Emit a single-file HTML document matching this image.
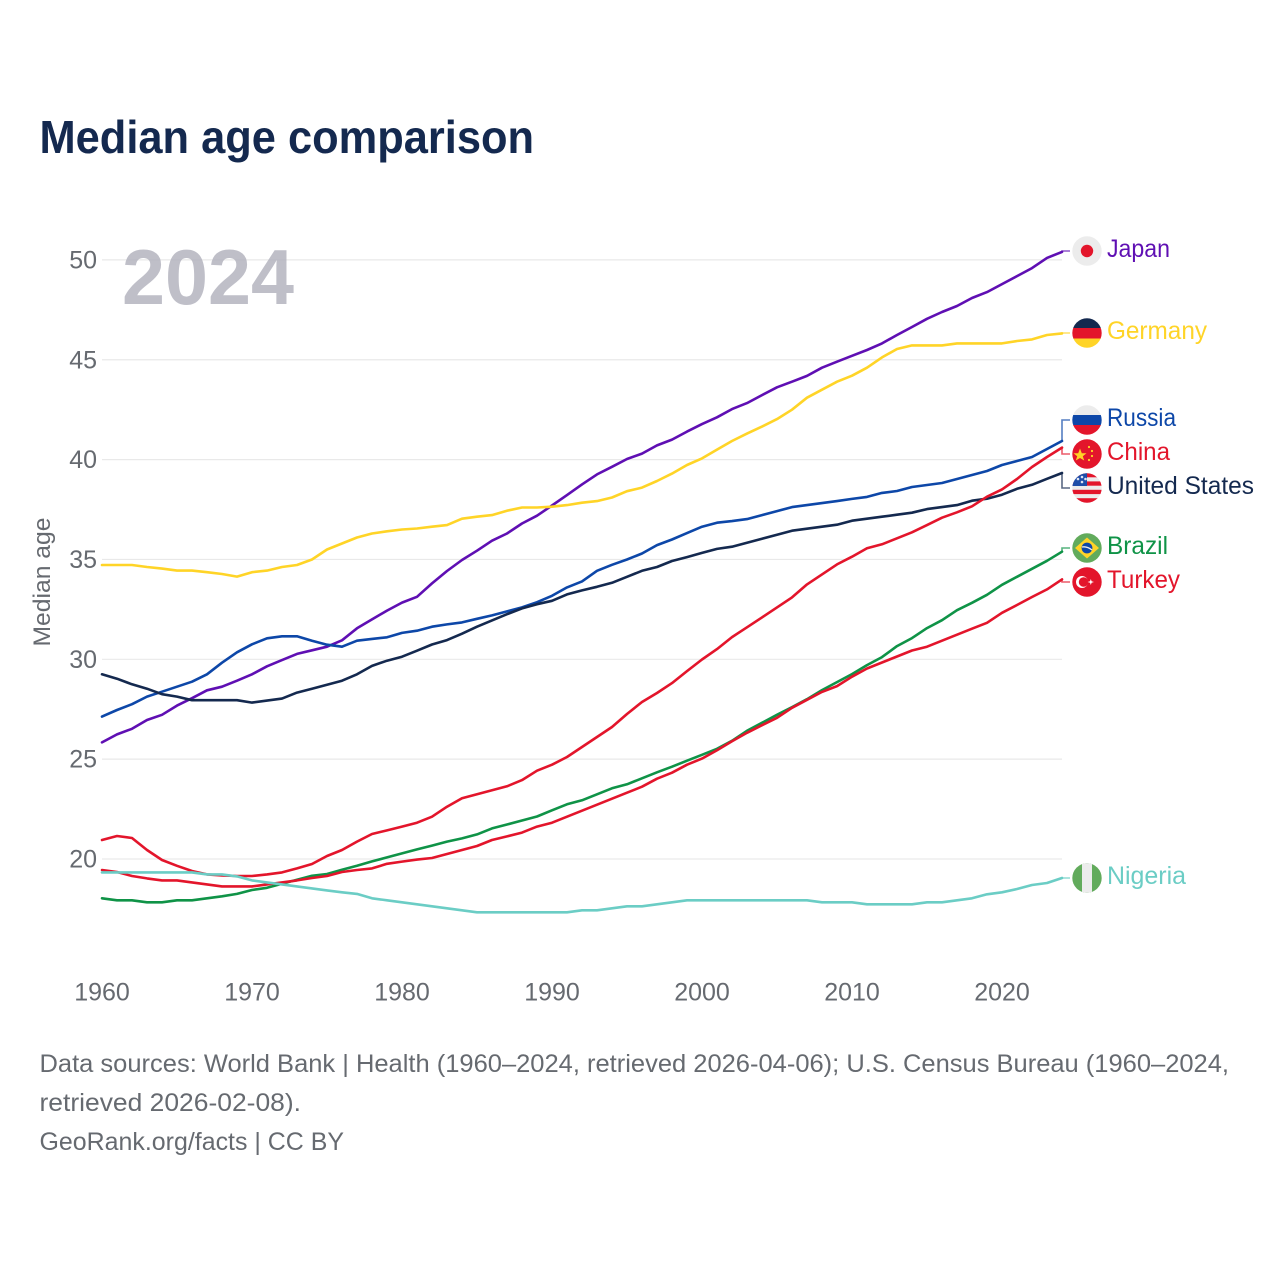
<!DOCTYPE html>
<html lang="en">
<head>
<meta charset="utf-8">
<title>Median age comparison</title>
<style>
html,body{margin:0;padding:0;background:#fff}
svg{display:block}
text{font-family:"Liberation Sans",sans-serif}
</style>
</head>
<body>
<svg id="chart" width="1280" height="1280" viewBox="0 0 1280 1280" xmlns="http://www.w3.org/2000/svg">
<defs><clipPath id="flag-clip"><circle cx="0" cy="0" r="14.7"/></clipPath></defs>
<rect width="1280" height="1280" fill="#fff"/>
<text x="39.5" y="153" font-size="46" font-weight="700" fill="#14294f" textLength="494.5" lengthAdjust="spacingAndGlyphs">Median age comparison</text>
<g id="grid"></g>
<text x="122" y="304" font-size="78" font-weight="700" fill="#b4b4bf" opacity="0.85" textLength="172" lengthAdjust="spacingAndGlyphs">2024</text>
<g id="ticks"></g>
<text transform="translate(50,582) rotate(-90)" text-anchor="middle" font-size="24" fill="#666a70" textLength="129" lengthAdjust="spacingAndGlyphs">Median age</text>
<g id="series"></g>

<g class="flag" data-series="japan" data-cy="251" transform="translate(1087,251)" clip-path="url(#flag-clip)">
<rect x="-15" y="-15" width="30" height="30" fill="#ececec"/><circle r="6.2" fill="#e3152b"/></g>
<g class="flag" data-series="germany" data-cy="333" transform="translate(1087,333)" clip-path="url(#flag-clip)">
<rect x="-15" y="-15" width="30" height="10" fill="#14294f"/><rect x="-15" y="-5" width="30" height="11" fill="#e3152b"/><rect x="-15" y="5.5" width="30" height="10" fill="#ffd427"/></g>
<g class="flag" data-series="russia" data-cy="420" transform="translate(1087,420)" clip-path="url(#flag-clip)">
<rect x="-15" y="-15" width="30" height="10" fill="#ececec"/><rect x="-15" y="-5" width="30" height="10.5" fill="#0d47a8"/><rect x="-15" y="5" width="30" height="10" fill="#e3152b"/></g>
<g class="flag" data-series="china" data-cy="454" transform="translate(1087,454)" clip-path="url(#flag-clip)">
<rect x="-15" y="-15" width="30" height="30" fill="#e3152b"/><polygon points="-7,-5.5 -5.2,-0.8 -0.5,-0.8 -4.2,2.2 -2.8,6.5 -7,4 -11.2,6.5 -9.8,2.2 -13.5,-0.8 -8.8,-0.8" fill="#ffd427"/><circle cx="2" cy="-7" r="1.1" fill="#ffd427"/><circle cx="5" cy="-3" r="1.1" fill="#ffd427"/><circle cx="5" cy="2" r="1.1" fill="#ffd427"/><circle cx="2" cy="6" r="1.1" fill="#ffd427"/></g>
<g class="flag" data-series="unitedStates" data-cy="488" transform="translate(1087,488)" clip-path="url(#flag-clip)">
<rect x="-15" y="-15" width="30" height="30" fill="#ececec"/>
<rect x="-15" y="-15" width="30" height="4.3" fill="#e3152b"/><rect x="-15" y="-6.6" width="30" height="4.3" fill="#e3152b"/><rect x="-15" y="1.8" width="30" height="4.3" fill="#e3152b"/><rect x="-15" y="10.2" width="30" height="4.8" fill="#e3152b"/>
<rect x="-15" y="-15" width="15" height="13" fill="#1f4ea8"/><circle cx="-9" cy="-9" r="1.3" fill="#dfe5f2"/><circle cx="-5" cy="-11" r="1.3" fill="#dfe5f2"/><circle cx="-5" cy="-6" r="1.3" fill="#dfe5f2"/><circle cx="-1.5" cy="-9" r="1.3" fill="#dfe5f2"/></g>
<g class="flag" data-series="brazil" data-cy="548" transform="translate(1087,548)" clip-path="url(#flag-clip)">
<rect x="-15" y="-15" width="30" height="30" fill="#62ab5c"/><polygon points="0,-10.5 12,0 0,10.5 -12,0" fill="#ffd427"/><circle r="5.4" fill="#0d47a8"/><path d="M-5,-1 Q0,-2 5,2" stroke="#ececec" stroke-width="1.3" fill="none"/></g>
<g class="flag" data-series="turkey" data-cy="582" transform="translate(1087,582)" clip-path="url(#flag-clip)">
<rect x="-15" y="-15" width="30" height="30" fill="#e3152b"/><circle cx="-5" cy="0" r="6" fill="#fff"/><circle cx="-3.4" cy="0" r="4.8" fill="#e3152b"/><polygon points="0.5,0 3,-0.8 3.8,-3 4.6,-0.8 7,0 4.6,0.8 3.8,3 3,0.8" fill="#fff"/></g>
<g class="flag" data-series="nigeria" data-cy="878" transform="translate(1087,878)" clip-path="url(#flag-clip)">
<rect x="-15" y="-15" width="30" height="30" fill="#62ab5c"/><rect x="-5" y="-15" width="10" height="30" fill="#ececec"/></g>

<text x="1107" y="257" font-size="25" fill="#5f0fb3" textLength="63" lengthAdjust="spacingAndGlyphs">Japan</text>
<text x="1107" y="339" font-size="25" fill="#ffd427" textLength="100" lengthAdjust="spacingAndGlyphs">Germany</text>
<text x="1107" y="426" font-size="25" fill="#0d47a8" textLength="69" lengthAdjust="spacingAndGlyphs">Russia</text>
<text x="1107" y="460" font-size="25" fill="#e3152b" textLength="63" lengthAdjust="spacingAndGlyphs">China</text>
<text x="1107" y="494" font-size="25" fill="#14294f" textLength="147" lengthAdjust="spacingAndGlyphs">United States</text>
<text x="1107" y="554" font-size="25" fill="#0f9347" textLength="61" lengthAdjust="spacingAndGlyphs">Brazil</text>
<text x="1107" y="588" font-size="25" fill="#e3152b" textLength="73" lengthAdjust="spacingAndGlyphs">Turkey</text>
<text x="1107" y="884" font-size="25" fill="#6bcdc5" textLength="79" lengthAdjust="spacingAndGlyphs">Nigeria</text>

<text x="39.5" y="1072" font-size="25" fill="#666a70" textLength="1189.5" lengthAdjust="spacingAndGlyphs">Data sources: World Bank | Health (1960–2024, retrieved 2026-04-06); U.S. Census Bureau (1960–2024,</text>
<text x="39.5" y="1111" font-size="25" fill="#666a70" textLength="261.5" lengthAdjust="spacingAndGlyphs">retrieved 2026-02-08).</text>
<text x="39.5" y="1150" font-size="25" fill="#666a70" textLength="304.5" lengthAdjust="spacingAndGlyphs">GeoRank.org/facts | CC BY</text>
</svg>
<script>
const firstYear = 1960;
const yTicks = [20, 25, 30, 35, 40, 45, 50];
const xTicks = [1960, 1970, 1980, 1990, 2000, 2010, 2020];
const japan = [25.84,26.24,26.52,26.96,27.22,27.68,28.05,28.45,28.63,28.93,29.25,29.65,29.96,30.27,30.45,30.63,30.95,31.55,32.0,32.44,32.84,33.13,33.8,34.42,34.97,35.44,35.94,36.3,36.8,37.19,37.7,38.22,38.76,39.26,39.64,40.03,40.3,40.71,41.0,41.4,41.78,42.12,42.53,42.83,43.23,43.62,43.9,44.19,44.6,44.9,45.2,45.49,45.82,46.24,46.64,47.05,47.39,47.69,48.09,48.39,48.79,49.19,49.59,50.1,50.4];
const germany = [34.72,34.72,34.72,34.62,34.54,34.44,34.44,34.36,34.27,34.14,34.36,34.44,34.62,34.72,35.0,35.5,35.8,36.1,36.3,36.41,36.5,36.55,36.64,36.72,37.04,37.14,37.22,37.44,37.6,37.6,37.64,37.72,37.84,37.92,38.1,38.42,38.6,38.93,39.3,39.73,40.06,40.5,40.93,41.3,41.65,42.03,42.5,43.1,43.5,43.9,44.2,44.6,45.12,45.54,45.72,45.72,45.72,45.82,45.82,45.82,45.82,45.94,46.02,46.24,46.32];
const russia = [27.13,27.46,27.75,28.13,28.38,28.63,28.88,29.25,29.83,30.35,30.75,31.05,31.15,31.15,30.93,30.73,30.63,30.93,31.02,31.1,31.32,31.43,31.63,31.75,31.85,32.03,32.2,32.4,32.6,32.86,33.18,33.6,33.9,34.43,34.73,35.0,35.3,35.72,36.0,36.32,36.64,36.84,36.92,37.02,37.22,37.42,37.62,37.72,37.82,37.92,38.03,38.13,38.33,38.43,38.63,38.73,38.83,39.03,39.23,39.43,39.73,39.93,40.13,40.53,40.93];
const china = [20.95,21.15,21.05,20.45,19.95,19.66,19.4,19.23,19.18,19.15,19.15,19.23,19.33,19.53,19.75,20.15,20.45,20.87,21.25,21.43,21.62,21.82,22.12,22.62,23.04,23.24,23.44,23.64,23.95,24.42,24.72,25.11,25.61,26.11,26.61,27.26,27.86,28.31,28.81,29.41,29.99,30.51,31.11,31.6,32.1,32.6,33.1,33.75,34.25,34.75,35.14,35.56,35.76,36.06,36.36,36.72,37.09,37.36,37.66,38.14,38.51,39.03,39.63,40.13,40.6];
const unitedStates = [29.25,29.03,28.75,28.53,28.25,28.13,27.95,27.95,27.95,27.95,27.83,27.93,28.03,28.33,28.53,28.73,28.93,29.25,29.67,29.93,30.13,30.43,30.74,30.96,31.28,31.63,31.95,32.26,32.55,32.76,32.93,33.25,33.45,33.63,33.83,34.13,34.43,34.62,34.92,35.12,35.33,35.53,35.64,35.84,36.04,36.24,36.44,36.54,36.64,36.74,36.94,37.04,37.14,37.24,37.34,37.52,37.62,37.72,37.94,38.04,38.24,38.54,38.74,39.04,39.33];
const brazil = [18.03,17.93,17.93,17.83,17.83,17.93,17.93,18.03,18.13,18.25,18.45,18.56,18.76,18.96,19.16,19.25,19.46,19.66,19.88,20.08,20.28,20.48,20.67,20.87,21.03,21.23,21.53,21.73,21.93,22.13,22.44,22.74,22.94,23.24,23.54,23.74,24.04,24.34,24.62,24.92,25.22,25.52,25.92,26.42,26.82,27.22,27.6,28.0,28.46,28.86,29.26,29.71,30.11,30.66,31.06,31.56,31.96,32.46,32.83,33.23,33.73,34.13,34.53,34.93,35.39];
const turkey = [19.45,19.35,19.15,19.03,18.93,18.93,18.83,18.73,18.63,18.63,18.63,18.73,18.83,18.93,19.05,19.15,19.35,19.45,19.53,19.76,19.87,19.97,20.05,20.25,20.45,20.65,20.95,21.13,21.32,21.62,21.82,22.12,22.42,22.72,23.02,23.32,23.62,24.02,24.32,24.72,25.03,25.45,25.9,26.32,26.7,27.07,27.57,27.97,28.37,28.66,29.13,29.54,29.84,30.14,30.44,30.63,30.93,31.23,31.53,31.83,32.33,32.72,33.12,33.5,34.0];
const nigeria = [19.33,19.33,19.33,19.33,19.33,19.33,19.33,19.23,19.23,19.13,18.93,18.83,18.73,18.63,18.53,18.43,18.33,18.25,18.03,17.93,17.83,17.73,17.63,17.53,17.43,17.33,17.33,17.33,17.33,17.33,17.33,17.33,17.43,17.43,17.53,17.63,17.63,17.73,17.83,17.93,17.93,17.93,17.93,17.93,17.93,17.93,17.93,17.93,17.83,17.83,17.83,17.73,17.73,17.73,17.73,17.83,17.83,17.93,18.03,18.23,18.33,18.5,18.7,18.8,19.05];

const NS = 'http://www.w3.org/2000/svg';
function xScale(year) { return 102 + (year - 1960) * 15; }
function yScale(value) { return 859 - (value - 20) * 19.97; }
function make(tag, attrs, parent) {
  const el = document.createElementNS(NS, tag);
  for (const k in attrs) el.setAttribute(k, attrs[k]);
  parent.appendChild(el);
  return el;
}

const gridGroup = document.getElementById('grid');
const tickGroup = document.getElementById('ticks');
yTicks.forEach(function (t) {
  const line = make('line', {x1: 102, x2: 1062, y1: yScale(t), y2: yScale(t), stroke: '#e9e9e9', 'stroke-width': 1.2}, gridGroup);
  
  
  const label = make('text', {x: 97, y: yScale(t) + 8.5, 'text-anchor': 'end', 'font-size': 25, fill: '#666a70'}, tickGroup);
  label.textContent = t;
  
  
});
xTicks.forEach(function (t) {
  const label = make('text', {x: xScale(t), y: 1000.5, 'text-anchor': 'middle', 'font-size': 25, fill: '#666a70'}, tickGroup);
  label.textContent = t;
  
  
});

const seriesGroup = document.getElementById('series');
function drawSeries(key, values, color) {
  const pts = values.map(function (v, i) { return xScale(firstYear + i).toFixed(1) + ',' + yScale(v).toFixed(1); });
  const line = make('polyline', {points: pts.join(' '), fill: 'none', stroke: color, 'stroke-width': 2.6, 'stroke-linejoin': 'round', 'stroke-linecap': 'round'}, seriesGroup);
  
  
  const flag = document.querySelector('.flag[data-series="' + key + '"]');
  const cy = Number(flag.getAttribute('data-cy'));
  const lastX = xScale(firstYear + values.length - 1);
  const lastY = yScale(values[values.length - 1]);
  const leader = make('polyline', {points: lastX + ',' + lastY.toFixed(1) + ' ' + lastX + ',' + cy + ' ' + (lastX + 8) + ',' + cy, fill: 'none', stroke: color, 'stroke-width': 1.6, opacity: 0.7}, seriesGroup);
  
  
}
drawSeries('japan', japan, '#5f0fb3');
drawSeries('germany', germany, '#ffd427');
drawSeries('russia', russia, '#0d47a8');
drawSeries('unitedStates', unitedStates, '#14294f');
drawSeries('china', china, '#e3152b');
drawSeries('brazil', brazil, '#0f9347');
drawSeries('turkey', turkey, '#e3152b');
drawSeries('nigeria', nigeria, '#6bcdc5');
</script>
</body>
</html>
